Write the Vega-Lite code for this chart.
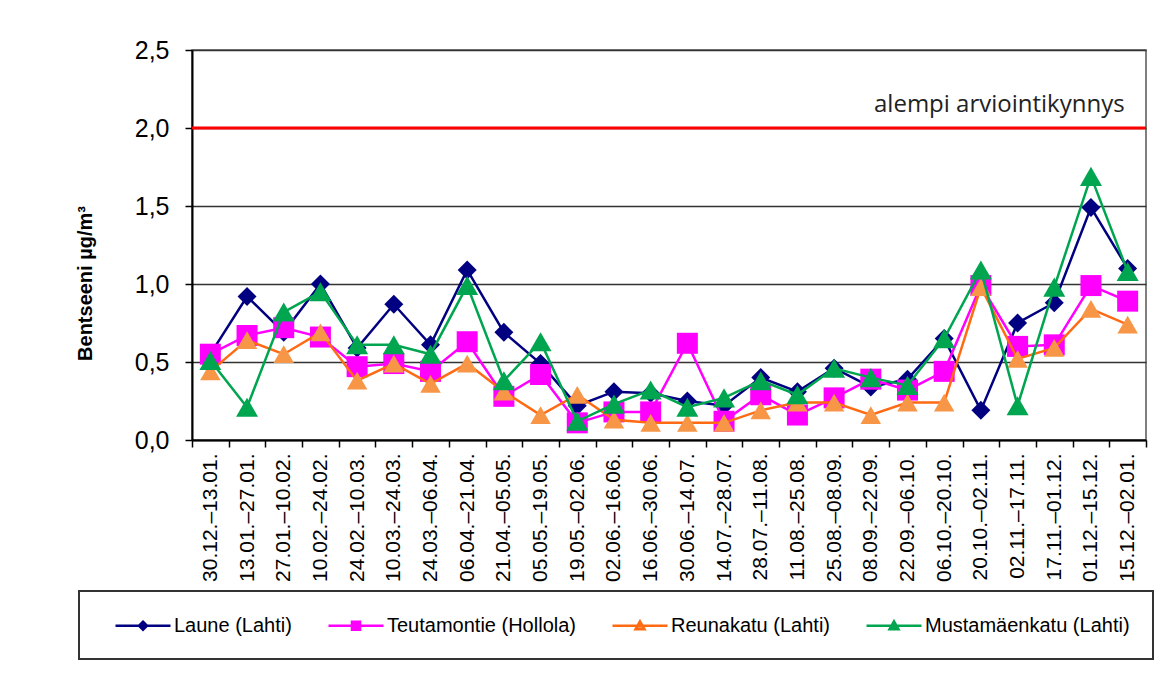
{
  "$schema": "https://vega.github.io/schema/vega-lite/v6.json",
  "width": 954,
  "height": 390,
  "autosize": "none",
  "padding": {"left": 192, "top": 50, "right": 30, "bottom": 251},
  "background": "white",
  "config": {
    "view": {"stroke": "#555", "strokeWidth": 1.5},
    "font": "Liberation Sans",
    "legend": {
      "orient": "none", "legendX": -113, "legendY": 541, "direction": "horizontal",
      "symbolSize": 400, "labelFont": "Liberation Sans", "labelFontSize": 20, "labelColor": "black",
      "labelLimit": 400, "labelOffset": 49, "columnPadding": 23, "padding": 23, "strokeColor": "#333",
      "symbolStrokeWidth": 2.5, "symbolOpacity": 1, "title": null
    }
  },
  "datasets": {
    "limit": [{"name": "alempi arviointikynnys", "value": 2.0}],
    "conc": [
      {"p": "30.12.–13.01.", "s": "Laune (Lahti)", "v": 0.55},
      {"p": "13.01.–27.01.", "s": "Laune (Lahti)", "v": 0.92},
      {"p": "27.01.–10.02.", "s": "Laune (Lahti)", "v": 0.69},
      {"p": "10.02.–24.02.", "s": "Laune (Lahti)", "v": 1.00},
      {"p": "24.02.–10.03.", "s": "Laune (Lahti)", "v": 0.59},
      {"p": "10.03.–24.03.", "s": "Laune (Lahti)", "v": 0.87},
      {"p": "24.03.–06.04.", "s": "Laune (Lahti)", "v": 0.61},
      {"p": "06.04.–21.04.", "s": "Laune (Lahti)", "v": 1.09},
      {"p": "21.04.–05.05.", "s": "Laune (Lahti)", "v": 0.69},
      {"p": "05.05.–19.05.", "s": "Laune (Lahti)", "v": 0.49},
      {"p": "19.05.–02.06.", "s": "Laune (Lahti)", "v": 0.22},
      {"p": "02.06.–16.06.", "s": "Laune (Lahti)", "v": 0.31},
      {"p": "16.06.–30.06.", "s": "Laune (Lahti)", "v": 0.30},
      {"p": "30.06.–14.07.", "s": "Laune (Lahti)", "v": 0.25},
      {"p": "14.07.–28.07.", "s": "Laune (Lahti)", "v": 0.22},
      {"p": "28.07.–11.08.", "s": "Laune (Lahti)", "v": 0.40},
      {"p": "11.08.–25.08.", "s": "Laune (Lahti)", "v": 0.31},
      {"p": "25.08.–08.09.", "s": "Laune (Lahti)", "v": 0.46},
      {"p": "08.09.–22.09.", "s": "Laune (Lahti)", "v": 0.34},
      {"p": "22.09.–06.10.", "s": "Laune (Lahti)", "v": 0.39},
      {"p": "06.10.–20.10.", "s": "Laune (Lahti)", "v": 0.65},
      {"p": "20.10.–02.11.", "s": "Laune (Lahti)", "v": 0.19},
      {"p": "02.11.–17.11.", "s": "Laune (Lahti)", "v": 0.75},
      {"p": "17.11.–01.12.", "s": "Laune (Lahti)", "v": 0.88},
      {"p": "01.12.–15.12.", "s": "Laune (Lahti)", "v": 1.49},
      {"p": "15.12.–02.01.", "s": "Laune (Lahti)", "v": 1.10},
      {"p": "30.12.–13.01.", "s": "Teutamontie (Hollola)", "v": 0.55},
      {"p": "13.01.–27.01.", "s": "Teutamontie (Hollola)", "v": 0.67},
      {"p": "27.01.–10.02.", "s": "Teutamontie (Hollola)", "v": 0.72},
      {"p": "10.02.–24.02.", "s": "Teutamontie (Hollola)", "v": 0.66},
      {"p": "24.02.–10.03.", "s": "Teutamontie (Hollola)", "v": 0.47},
      {"p": "10.03.–24.03.", "s": "Teutamontie (Hollola)", "v": 0.49},
      {"p": "24.03.–06.04.", "s": "Teutamontie (Hollola)", "v": 0.44},
      {"p": "06.04.–21.04.", "s": "Teutamontie (Hollola)", "v": 0.63},
      {"p": "21.04.–05.05.", "s": "Teutamontie (Hollola)", "v": 0.28},
      {"p": "05.05.–19.05.", "s": "Teutamontie (Hollola)", "v": 0.42},
      {"p": "19.05.–02.06.", "s": "Teutamontie (Hollola)", "v": 0.11},
      {"p": "02.06.–16.06.", "s": "Teutamontie (Hollola)", "v": 0.18},
      {"p": "16.06.–30.06.", "s": "Teutamontie (Hollola)", "v": 0.18},
      {"p": "30.06.–14.07.", "s": "Teutamontie (Hollola)", "v": 0.62},
      {"p": "14.07.–28.07.", "s": "Teutamontie (Hollola)", "v": 0.12},
      {"p": "28.07.–11.08.", "s": "Teutamontie (Hollola)", "v": 0.29},
      {"p": "11.08.–25.08.", "s": "Teutamontie (Hollola)", "v": 0.16},
      {"p": "25.08.–08.09.", "s": "Teutamontie (Hollola)", "v": 0.27},
      {"p": "08.09.–22.09.", "s": "Teutamontie (Hollola)", "v": 0.39},
      {"p": "22.09.–06.10.", "s": "Teutamontie (Hollola)", "v": 0.32},
      {"p": "06.10.–20.10.", "s": "Teutamontie (Hollola)", "v": 0.44},
      {"p": "20.10.–02.11.", "s": "Teutamontie (Hollola)", "v": 0.99},
      {"p": "02.11.–17.11.", "s": "Teutamontie (Hollola)", "v": 0.60},
      {"p": "17.11.–01.12.", "s": "Teutamontie (Hollola)", "v": 0.61},
      {"p": "01.12.–15.12.", "s": "Teutamontie (Hollola)", "v": 0.99},
      {"p": "15.12.–02.01.", "s": "Teutamontie (Hollola)", "v": 0.89},
      {"p": "30.12.–13.01.", "s": "Reunakatu (Lahti)", "v": 0.44},
      {"p": "13.01.–27.01.", "s": "Reunakatu (Lahti)", "v": 0.64},
      {"p": "27.01.–10.02.", "s": "Reunakatu (Lahti)", "v": 0.55},
      {"p": "10.02.–24.02.", "s": "Reunakatu (Lahti)", "v": 0.69},
      {"p": "24.02.–10.03.", "s": "Reunakatu (Lahti)", "v": 0.38},
      {"p": "10.03.–24.03.", "s": "Reunakatu (Lahti)", "v": 0.49},
      {"p": "24.03.–06.04.", "s": "Reunakatu (Lahti)", "v": 0.36},
      {"p": "06.04.–21.04.", "s": "Reunakatu (Lahti)", "v": 0.49},
      {"p": "21.04.–05.05.", "s": "Reunakatu (Lahti)", "v": 0.31},
      {"p": "05.05.–19.05.", "s": "Reunakatu (Lahti)", "v": 0.16},
      {"p": "19.05.–02.06.", "s": "Reunakatu (Lahti)", "v": 0.29},
      {"p": "02.06.–16.06.", "s": "Reunakatu (Lahti)", "v": 0.13},
      {"p": "16.06.–30.06.", "s": "Reunakatu (Lahti)", "v": 0.11},
      {"p": "30.06.–14.07.", "s": "Reunakatu (Lahti)", "v": 0.11},
      {"p": "14.07.–28.07.", "s": "Reunakatu (Lahti)", "v": 0.11},
      {"p": "28.07.–11.08.", "s": "Reunakatu (Lahti)", "v": 0.19},
      {"p": "11.08.–25.08.", "s": "Reunakatu (Lahti)", "v": 0.24},
      {"p": "25.08.–08.09.", "s": "Reunakatu (Lahti)", "v": 0.24},
      {"p": "08.09.–22.09.", "s": "Reunakatu (Lahti)", "v": 0.16},
      {"p": "22.09.–06.10.", "s": "Reunakatu (Lahti)", "v": 0.24},
      {"p": "06.10.–20.10.", "s": "Reunakatu (Lahti)", "v": 0.24},
      {"p": "20.10.–02.11.", "s": "Reunakatu (Lahti)", "v": 0.98},
      {"p": "02.11.–17.11.", "s": "Reunakatu (Lahti)", "v": 0.52},
      {"p": "17.11.–01.12.", "s": "Reunakatu (Lahti)", "v": 0.59},
      {"p": "01.12.–15.12.", "s": "Reunakatu (Lahti)", "v": 0.84},
      {"p": "15.12.–02.01.", "s": "Reunakatu (Lahti)", "v": 0.74},
      {"p": "30.12.–13.01.", "s": "Mustamäenkatu (Lahti)", "v": 0.51},
      {"p": "13.01.–27.01.", "s": "Mustamäenkatu (Lahti)", "v": 0.21},
      {"p": "27.01.–10.02.", "s": "Mustamäenkatu (Lahti)", "v": 0.82},
      {"p": "10.02.–24.02.", "s": "Mustamäenkatu (Lahti)", "v": 0.95},
      {"p": "24.02.–10.03.", "s": "Mustamäenkatu (Lahti)", "v": 0.61},
      {"p": "10.03.–24.03.", "s": "Mustamäenkatu (Lahti)", "v": 0.61},
      {"p": "24.03.–06.04.", "s": "Mustamäenkatu (Lahti)", "v": 0.55},
      {"p": "06.04.–21.04.", "s": "Mustamäenkatu (Lahti)", "v": 0.99},
      {"p": "21.04.–05.05.", "s": "Mustamäenkatu (Lahti)", "v": 0.38},
      {"p": "05.05.–19.05.", "s": "Mustamäenkatu (Lahti)", "v": 0.63},
      {"p": "19.05.–02.06.", "s": "Mustamäenkatu (Lahti)", "v": 0.12},
      {"p": "02.06.–16.06.", "s": "Mustamäenkatu (Lahti)", "v": 0.23},
      {"p": "16.06.–30.06.", "s": "Mustamäenkatu (Lahti)", "v": 0.32},
      {"p": "30.06.–14.07.", "s": "Mustamäenkatu (Lahti)", "v": 0.21},
      {"p": "14.07.–28.07.", "s": "Mustamäenkatu (Lahti)", "v": 0.27},
      {"p": "28.07.–11.08.", "s": "Mustamäenkatu (Lahti)", "v": 0.38},
      {"p": "11.08.–25.08.", "s": "Mustamäenkatu (Lahti)", "v": 0.29},
      {"p": "25.08.–08.09.", "s": "Mustamäenkatu (Lahti)", "v": 0.46},
      {"p": "08.09.–22.09.", "s": "Mustamäenkatu (Lahti)", "v": 0.40},
      {"p": "22.09.–06.10.", "s": "Mustamäenkatu (Lahti)", "v": 0.35},
      {"p": "06.10.–20.10.", "s": "Mustamäenkatu (Lahti)", "v": 0.65},
      {"p": "20.10.–02.11.", "s": "Mustamäenkatu (Lahti)", "v": 1.09},
      {"p": "02.11.–17.11.", "s": "Mustamäenkatu (Lahti)", "v": 0.22},
      {"p": "17.11.–01.12.", "s": "Mustamäenkatu (Lahti)", "v": 0.98},
      {"p": "01.12.–15.12.", "s": "Mustamäenkatu (Lahti)", "v": 1.69},
      {"p": "15.12.–02.01.", "s": "Mustamäenkatu (Lahti)", "v": 1.08}
    ]
  },
  "layer": [
    {
      "data": {"name": "conc"},
      "encoding": {
        "x": {
          "field": "p", "type": "ordinal", "sort": null,
          "scale": {"type": "band", "paddingInner": 0, "paddingOuter": 0},
          "axis": {
            "title": null, "labelAngle": -90, "labelFont": "Liberation Sans", "labelFontSize": 21,
            "labelColor": "black", "labelPadding": 6, "tickBand": "extent", "tickSize": 7,
            "tickColor": "black", "tickWidth": 1.5, "domainColor": "black", "domainWidth": 2,
            "labelBaseline": "middle", "grid": false
          }
        },
        "y": {
          "field": "v", "type": "quantitative",
          "scale": {"domain": [0, 2.5], "nice": false},
          "axis": {
            "values": [0, 0.5, 1, 1.5, 2, 2.5],
            "labelExpr": "replace(format(datum.value, '.1f'), '.', ',')",
            "labelFont": "Liberation Sans", "labelFontSize": 25, "labelColor": "black",
            "labelPadding": 16, "tickSize": 7, "tickColor": "black", "tickWidth": 1.5,
            "domainColor": "black", "domainWidth": 2, "grid": true, "gridColor": "#333", "gridWidth": 1.5,
            "title": "Bentseeni µg/m³", "titleFont": "Liberation Sans", "titleFontSize": 20,
            "titleFontWeight": "bold", "titleColor": "black", "titleX": -107, "titleY": 233,
            "titleAngle": -90, "titleAlign": "center", "titleBaseline": "middle"
          }
        }
      },
      "layer": [
        {
          "transform": [{"filter": "datum.s === 'Laune (Lahti)'"}],
          "layer": [
            {"mark": {"type": "line", "strokeWidth": 2.5, "color": "#000080"}},
            {"mark": {"type": "point", "filled": true, "opacity": 1, "strokeWidth": 0, "size": 361, "shape": "diamond"},
             "encoding": {
               "fill": {"field": "s", "type": "nominal",
                 "scale": {"domain": ["Laune (Lahti)", "Teutamontie (Hollola)", "Reunakatu (Lahti)", "Mustamäenkatu (Lahti)"], "range": ["#000080", "#FF00FF", "#F79646", "#00A550"]},
                 "legend": {
                   "encode": {
                     "symbols": {"update": {
                       "shape": {"signal": "datum.value === 'Laune (Lahti)' ? 'M0.2,0H5.7M2.95,-0.4L3.35,0L2.95,0.4L2.55,0Z' : datum.value === 'Teutamontie (Hollola)' ? 'M0.2,0H5.7M2.55,-0.4H3.35V0.4H2.55Z' : 'M0.2,0H5.7M2.95,-0.45L3.4,0.35H2.5Z'"},
                       "stroke": {"signal": "datum.value === 'Laune (Lahti)' ? '#000080' : datum.value === 'Teutamontie (Hollola)' ? '#FF00FF' : datum.value === 'Reunakatu (Lahti)' ? '#FF6A13' : '#00A550'"},
                       "strokeWidth": {"value": 2.5},
                       "size": {"value": 400},
                       "opacity": {"value": 1}
                     }},
                     "legend": {"update": {"strokeWidth": {"value": 2}}}
                   }
                 }}
             }}
          ]
        },
        {
          "transform": [{"filter": "datum.s === 'Teutamontie (Hollola)'"}],
          "layer": [
            {"mark": {"type": "line", "strokeWidth": 2.5, "color": "#FF00FF"}},
            {"mark": {"type": "point", "filled": true, "opacity": 1, "strokeWidth": 0, "size": 441, "shape": "square"},
             "encoding": {"fill": {"field": "s", "type": "nominal"}}}
          ]
        },
        {
          "transform": [{"filter": "datum.s === 'Reunakatu (Lahti)'"}],
          "layer": [
            {"mark": {"type": "line", "strokeWidth": 2.5, "color": "#FF6A13"}},
            {"mark": {"type": "point", "filled": true, "opacity": 1, "strokeWidth": 0, "size": 420, "shape": "triangle-up"},
             "encoding": {"fill": {"field": "s", "type": "nominal"}}}
          ]
        },
        {
          "transform": [{"filter": "datum.s === 'Mustamäenkatu (Lahti)'"}],
          "layer": [
            {"mark": {"type": "line", "strokeWidth": 2.5, "color": "#00A550"}},
            {"mark": {"type": "point", "filled": true, "opacity": 1, "strokeWidth": 0, "size": 484, "shape": "triangle-up"},
             "encoding": {"fill": {"field": "s", "type": "nominal"}}}
          ]
        }
      ]
    },
    {
      "data": {"name": "limit"},
      "mark": {"type": "rule", "color": "#FF0000", "strokeWidth": 3},
      "encoding": {"y": {"field": "value", "type": "quantitative"}}
    },
    {
      "data": {"name": "limit"},
      "mark": {"type": "text", "align": "right", "baseline": "alphabetic", "dx": -3, "dy": -16, "font": "Open Sans", "fontSize": 24, "color": "#222"},
      "encoding": {
        "x": {"datum": "15.12.–02.01.", "type": "ordinal"},
        "y": {"field": "value", "type": "quantitative"},
        "text": {"field": "name"}
      }
    }
  ]
}
